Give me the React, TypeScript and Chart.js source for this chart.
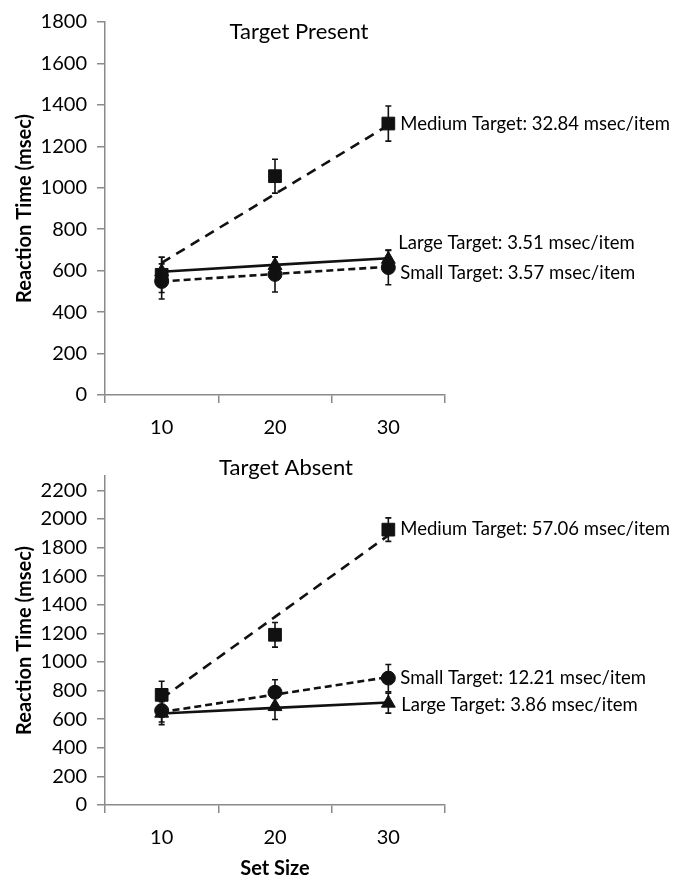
import React, { useEffect, useRef } from "react";
import { Chart, registerables } from "chart.js";
Chart.register(...registerables);

// ---------- DATA ----------
const setSizes = ["10", "20", "30"];

// Target Present: observed mean RTs (msec)
const presentSmall = [548, 582, 615];
const presentMedium = [580, 1056, 1310];
const presentLarge = [595, 625, 655];
// error bar half-widths
const presentSmallErr = [85, 85, 83];
const presentMediumErr = [85, 82, 85];
const presentLargeErr = [70, 40, 45];
// linear fits
const presentSmallFit = [548, 584, 619];
const presentMediumFit = [638, 970, 1302];
const presentLargeFit = [595, 628, 660];
const presentLabels = [
  "Medium Target: 32.84 msec/item",
  "Large Target: 3.51 msec/item",
  "Small Target: 3.57 msec/item",
];

// Target Absent
const absentSmall = [660, 788, 887];
const absentMedium = [770, 1190, 1925];
const absentLarge = [642, 688, 712];
const absentSmallErr = [80, 88, 95];
const absentMediumErr = [95, 86, 82];
const absentLargeErr = [80, 90, 70];
const absentSmallFit = [650, 772, 894];
const absentMediumFit = [745, 1315, 1885];
const absentLargeFit = [640, 679, 717];
const absentLabels = [
  "Medium Target: 57.06 msec/item",
  "Small Target: 12.21 msec/item",
  "Large Target: 3.86 msec/item",
];

// ---------- STYLE ----------
const FONT = "Lato, 'Open Sans', sans-serif";
const AXIS = "#8a8a8a";
const INK = "#111111";

const errorBarPlugin = {
  id: "errorBars",
  afterDatasetsDraw(chart: any) {
    const ctx = chart.ctx;
    const ys = chart.scales.y;
    chart.data.datasets.forEach((ds: any, i: number) => {
      if (!ds.errors) return;
      const meta = chart.getDatasetMeta(i);
      meta.data.forEach((pt: any, j: number) => {
        const v = ds.data[j];
        const top = ys.getPixelForValue(v + ds.errors[j]);
        const bot = ys.getPixelForValue(v - ds.errors[j]);
        ctx.save();
        ctx.strokeStyle = INK;
        ctx.lineWidth = 1.6;
        ctx.beginPath();
        ctx.moveTo(pt.x, top);
        ctx.lineTo(pt.x, bot);
        ctx.moveTo(pt.x - 3, top);
        ctx.lineTo(pt.x + 3, top);
        ctx.moveTo(pt.x - 3, bot);
        ctx.lineTo(pt.x + 3, bot);
        ctx.stroke();
        ctx.restore();
      });
    });
  },
};

const textPlugin = {
  id: "sideText",
  afterDraw(chart: any, _args: any, opts: any) {
    const ctx = chart.ctx;
    const ca = chart.chartArea;
    ctx.save();
    ctx.fillStyle = "#000";
    ctx.textBaseline = "middle";
    if (opts.title) {
      ctx.font = `22px ${FONT}`;
      ctx.textAlign = "center";
      ctx.fillText(opts.title, (ca.left + ca.right) / 2 + opts.titleDx, ca.top + opts.titleDy);
    }
    ctx.font = `18.5px ${FONT}`;
    ctx.textAlign = "left";
    (opts.items || []).forEach((it: any) => {
      const meta = chart.getDatasetMeta(it.dataset);
      const pt = meta.data[meta.data.length - 1];
      ctx.fillText(it.text, pt.x + it.dx, pt.y + it.dy);
    });
    ctx.restore();
  },
};

function lineDs(data: number[], dash: number[]) {
  return {
    type: "line",
    data,
    borderColor: INK,
    borderWidth: 2.6,
    borderDash: dash,
    pointRadius: 0,
    fill: false,
    order: 2,
  };
}
function markDs(data: number[], errors: number[], style: string, r: number) {
  return {
    type: "line",
    data,
    errors,
    showLine: false,
    pointStyle: style,
    pointRadius: r,
    pointBackgroundColor: INK,
    pointBorderColor: INK,
    pointBorderWidth: 1,
    order: 1,
  };
}

function makeConfig(p: any) {
  return {
    type: "line",
    data: {
      labels: setSizes,
      datasets: p.datasets,
    },
    options: {
      responsive: false,
      animation: false,
      layout: { padding: { left: 0, right: 228, top: p.top, bottom: 0 } },
      plugins: {
        legend: { display: false },
        tooltip: { enabled: false },
        sideText: { title: p.title, titleDx: p.titleDx, titleDy: p.titleDy, items: p.items },
      },
      scales: {
        x: {
          type: "category",
          offset: true,
          grid: { offset: true, drawOnChartArea: false, drawTicks: true, tickLength: 8, color: AXIS, lineWidth: 1.5 },
          border: { display: true, color: AXIS, width: 1.5 },
          ticks: { color: "#000", font: { family: FONT, size: 20 }, padding: 13 },
          title: {
            display: !!p.xTitle,
            text: p.xTitle || "",
            color: "#000",
            font: { family: FONT, size: 20, weight: "bold" },
            padding: { top: 0, bottom: 0 },
          },
          afterFit: (s: any) => {
            s.height = p.xHeight;
          },
        },
        y: {
          type: "linear",
          min: 0,
          max: p.yMax,
          grid: { drawOnChartArea: false, drawTicks: true, tickLength: 8, color: AXIS, lineWidth: 1.5 },
          border: { display: true, color: AXIS, width: 1.5 },
          ticks: {
            stepSize: 200,
            includeBounds: false,
            color: "#000",
            font: { family: FONT, size: 20 },
            padding: 10,
            callback: (v: any) => String(v),
          },
          title: {
            display: true,
            text: "Reaction Time (msec)",
            color: "#000",
            font: { family: FONT, size: 20, weight: "bold" },
            padding: { top: 13, bottom: 0 },
          },
          afterFit: (s: any) => {
            s.width = 105;
          },
        },
      },
    },
    plugins: [errorBarPlugin, textPlugin],
  };
}

function Panel({ cfg, height }: { cfg: any; height: number }) {
  const ref = useRef<HTMLCanvasElement>(null);
  useEffect(() => {
    const chart = new Chart(ref.current as HTMLCanvasElement, cfg);
    return () => chart.destroy();
  }, []);
  return <canvas ref={ref} width={673} height={height} style={{ display: "block" }} />;
}

const presentCfg = makeConfig({
  top: 15,
  xHeight: 45,
  yMax: 1800,
  title: "Target Present",
  titleDx: 24,
  titleDy: 10,
  datasets: [
    markDs(presentMedium, presentMediumErr, "rect", 9),
    markDs(presentLarge, presentLargeErr, "triangle", 8),
    markDs(presentSmall, presentSmallErr, "circle", 7),
    lineDs(presentMediumFit, [10, 7]),
    lineDs(presentLargeFit, []),
    lineDs(presentSmallFit, [7, 4]),
  ],
  items: [
    { dataset: 0, text: presentLabels[0], dx: 12, dy: 0 },
    { dataset: 1, text: presentLabels[1], dx: 10, dy: -16 },
    { dataset: 2, text: presentLabels[2], dx: 12, dy: 5 },
  ],
});

const absentCfg = makeConfig({
  top: 36,
  xHeight: 76,
  yMax: 2300,
  xTitle: "Set Size",
  title: "Target Absent",
  titleDx: 11,
  titleDy: -8,
  datasets: [
    markDs(absentMedium, absentMediumErr, "rect", 9),
    markDs(absentSmall, absentSmallErr, "circle", 7),
    markDs(absentLarge, absentLargeErr, "triangle", 8),
    lineDs(absentMediumFit, [10, 7]),
    lineDs(absentSmallFit, [7, 4]),
    lineDs(absentLargeFit, []),
  ],
  items: [
    { dataset: 0, text: absentLabels[0], dx: 12, dy: -1 },
    { dataset: 1, text: absentLabels[1], dx: 12, dy: 0 },
    { dataset: 2, text: absentLabels[2], dx: 13, dy: 2 },
  ],
});

export default function App() {
  useEffect(() => {
    document.body.style.margin = "0";
    document.body.style.background = "#fff";
  }, []);
  return (
    <div style={{ width: 673, height: 881, background: "#fff" }}>
      <Panel cfg={presentCfg} height={440} />
      <Panel cfg={absentCfg} height={441} />
    </div>
  );
}
